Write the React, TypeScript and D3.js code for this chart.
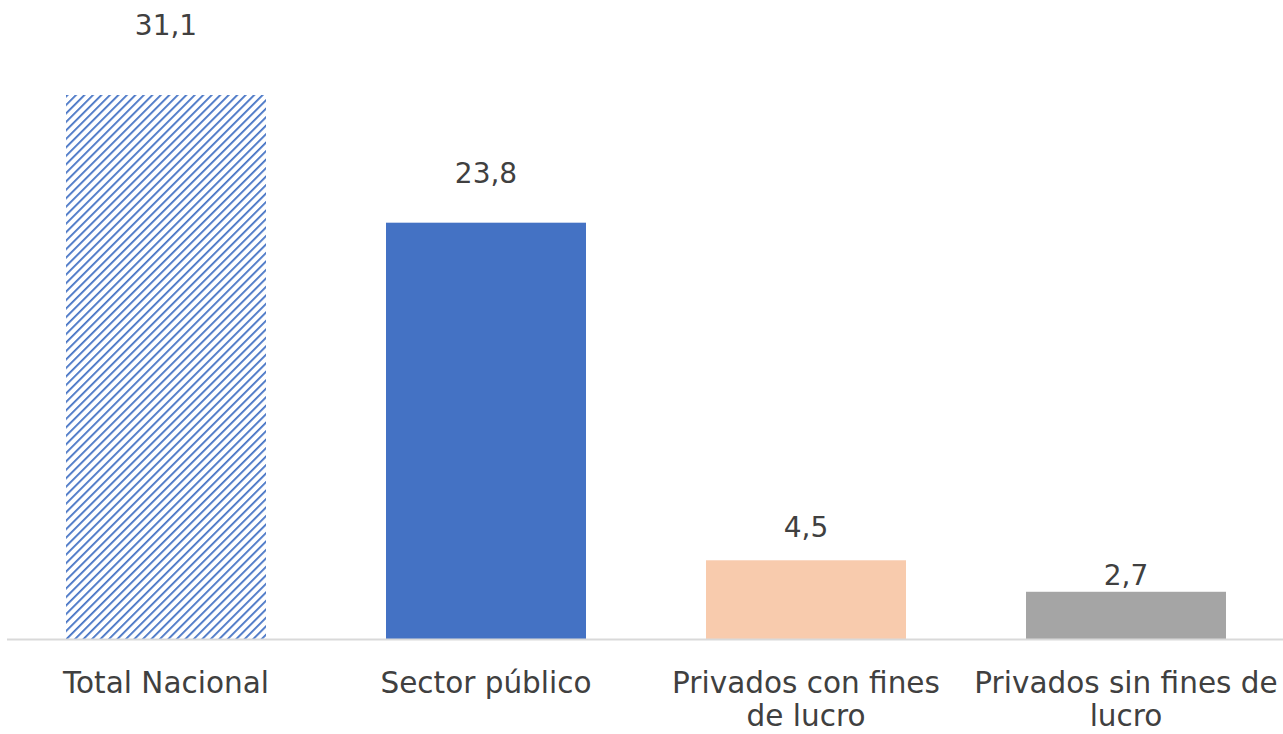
import React from 'react';
import * as d3 from 'd3';

const categories = ['Total Nacional', 'Sector público', 'Privados con fines de lucro', 'Privados sin fines de lucro'];
const labelLines = [['Total Nacional'], ['Sector público'], ['Privados con fines', 'de lucro'], ['Privados sin fines de', 'lucro']];
const values = [31.1, 23.8, 4.5, 2.7];
const valueLabels = ['31,1', '23,8', '4,5', '2,7'];
const fills = ['url(#hatch)', '#4472C4', '#F8CBAD', '#A5A5A5'];
// how far each value label sits above its bar (as in the source)
const labelGaps = [60, 40, 23, 7];

const W = 1283;
const H = 734;
const baseY = 639;

export default function App() {
  const x = d3.scaleBand<string>().domain(categories).range([6, 1286]).paddingInner(0.375).paddingOuter(0.1875);
  const y = d3.scaleLinear().domain([0, 31.1]).range([baseY, 95]);
  const font = "'DejaVu Sans', sans-serif";

  return (
    <svg width={W} height={H} style={{ position: 'absolute', left: 0, top: 0, background: '#fff' }}>
      <defs>
        <pattern id="hatch" width={6} height={6} patternUnits="userSpaceOnUse" patternTransform="rotate(45)">
          <rect width={6} height={6} fill="#fff" />
          <line x1={0} y1={0} x2={0} y2={6} stroke="#4472C4" strokeWidth={3.6} />
        </pattern>
      </defs>
      {categories.map((c, i) => (
        <rect key={c} x={x(c)} y={y(values[i])} width={x.bandwidth()} height={baseY - y(values[i])} fill={fills[i]} />
      ))}
      <line x1={7} x2={W} y1={baseY + 0.5} y2={baseY + 0.5} stroke="#d9d9d9" strokeWidth={2} />
      {categories.map((c, i) => (
        <text key={'v' + c} x={(x(c) ?? 0) + x.bandwidth() / 2} y={y(values[i]) - labelGaps[i]} textAnchor="middle"
          fontFamily={font} fontSize={28} fill="#404040">{valueLabels[i]}</text>
      ))}
      {categories.map((c, i) => (
        <text key={'c' + c} x={(x(c) ?? 0) + x.bandwidth() / 2} y={693} textAnchor="middle"
          fontFamily={font} fontSize={29.5} fill="#404040">
          {labelLines[i].map((l, j) => (
            <tspan key={j} x={(x(c) ?? 0) + x.bandwidth() / 2} dy={j === 0 ? 0 : 33}>{l}</tspan>
          ))}
        </text>
      ))}
    </svg>
  );
}
